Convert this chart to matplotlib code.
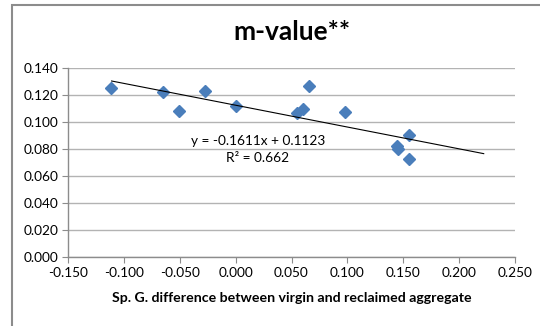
import matplotlib
matplotlib.use("Agg")
import matplotlib.pyplot as plt
from matplotlib.patches import Rectangle
import numpy as np

# Data
sp_g_diff = [-0.1118, -0.0647, -0.0507, -0.0271, 0.0001, 0.0546, 0.0600,
             0.0657, 0.0979, 0.1551, 0.1441, 0.1450, 0.1551]
m_value = [0.1253, 0.1223, 0.1083, 0.1226, 0.1117, 0.1068, 0.1095,
           0.1265, 0.1075, 0.0905, 0.0822, 0.0802, 0.0724]
trend_slope = -0.1611
trend_intercept = 0.1123
r_squared = 0.662
trend_x_range = [-0.111, 0.222]
x_ticks = [-0.150, -0.100, -0.050, 0.000, 0.050, 0.100, 0.150, 0.200, 0.250]
y_ticks = [0.000, 0.020, 0.040, 0.060, 0.080, 0.100, 0.120, 0.140]

plt.rcParams['font.family'] = ['Lato', 'DejaVu Sans']

fig = plt.figure(figsize=(5.4, 3.26), dpi=100)
W, H = 540, 326
ax = fig.add_axes([68 / W, 1 - 257.3 / H, (515 - 68) / W, (257.3 - 67.7) / H])

# chart-area border
fig.patches.append(Rectangle((12 / W, -0.1), 1.2, 1 - 4.5 / H + 0.1,
                             transform=fig.transFigure, fill=False,
                             edgecolor='#8c8c8c', linewidth=1.5))

ax.set_xlim(-0.150, 0.250)
ax.set_ylim(0.0, 0.140)
ax.set_xticks(x_ticks)
ax.set_yticks(y_ticks)
ax.set_xticklabels([f"{v:.3f}" for v in x_ticks])
ax.set_yticklabels([f"{v:.3f}" for v in y_ticks])
ax.tick_params(axis='both', labelsize=9.8, color='#8c8c8c', length=4,
               direction='out', labelcolor='#000000', pad=3)

ax.grid(axis='y', color='#b3b3b3', linewidth=1.0)
ax.set_axisbelow(True)
for side in ['top', 'right']:
    ax.spines[side].set_visible(False)
for side in ['left', 'bottom']:
    ax.spines[side].set_color('#8c8c8c')
    ax.spines[side].set_linewidth(1.0)

ax.plot(sp_g_diff, m_value, linestyle='none', marker='D', markersize=6.6,
        color='#4a7ebb', markeredgecolor='#4a7ebb', zorder=3)

tx = np.array(trend_x_range)
ax.plot(tx, trend_slope * tx + trend_intercept, color='black', linewidth=0.8, zorder=4)

ax.text(0.020, 0.0859, f"y = {trend_slope:.4f}x + {trend_intercept:.4f}",
        ha='center', va='center', fontsize=9.8)
ax.text(0.020, 0.0734, f"R² = {r_squared:.3f}", ha='center', va='center', fontsize=9.8)

ax.set_title("m-value**", fontsize=19, fontweight='bold', pad=20)
ax.set_xlabel("Sp. G. difference between virgin and reclaimed aggregate",
              fontsize=10.2, fontweight='bold', labelpad=9)

fig.savefig("out.png", dpi=100)
